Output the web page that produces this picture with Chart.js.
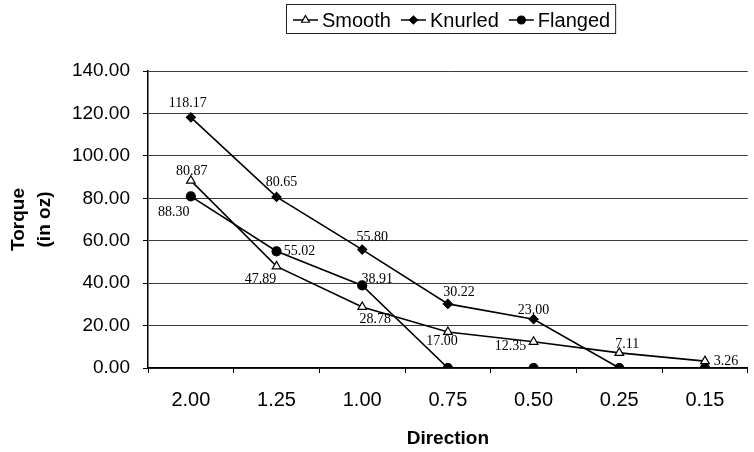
<!DOCTYPE html>
<html>
<head>
<meta charset="utf-8">
<script src="https://cdn.jsdelivr.net/npm/chart.js@4/dist/chart.umd.min.js"></script>
<style>
  html, body { margin: 0; padding: 0; background: #fff; }
  #wrap { width: 754px; height: 452px; position: relative; }
</style>
</head>
<body>
<div id="wrap"><canvas id="c" width="754" height="452"></canvas></div>
<script>
// Direction categories and torque readings (in oz)
const directions = ['2.00', '1.25', '1.00', '0.75', '0.50', '0.25', '0.15'];
const smooth  = [88.30, 47.89, 28.78, 17.00, 12.35, 7.11, 3.26];
const knurled = [118.17, 80.65, 55.80, 30.22, 23.00, 0, 0];
const flanged = [80.87, 55.02, 38.91, 0, 0, 0, 0];
const yTicks = [0, 20, 40, 60, 80, 100, 120, 140];

// Per-point value label offsets (pixels from the marker)
const labelOffsets = {
  Smooth:  [[-17, 32], [-16, 13], [13, 12], [-6, 9], [-23, 5], [8, -9], [21, 0]],
  Knurled: [[-3, -14], [5, -15], [10, -12], [11, -12], [0, -9], [0, 0], [0, 0]],
  Flanged: [[1, -25], [23, 0], [15, -6], [0, 0], [0, 0], [0, 0], [0, 0]]
};

const SANS = '"Liberation Sans", Arial, sans-serif';
const SERIF = '"Liberation Serif", "Times New Roman", serif';

// Value labels beside each non-zero point
const valueLabels = {
  id: 'valueLabels',
  afterDatasetsDraw(chart) {
    const ctx = chart.ctx;
    ctx.save();
    ctx.font = '14px ' + SERIF;
    ctx.fillStyle = '#000';
    ctx.textAlign = 'center';
    ctx.textBaseline = 'middle';
    chart.data.datasets.forEach((ds, i) => {
      const meta = chart.getDatasetMeta(i);
      const offs = labelOffsets[ds.label];
      meta.data.forEach((pt, j) => {
        const v = ds.data[j];
        if (!v) return;
        const [dx, dy] = offs[j];
        ctx.fillText(v.toFixed(2), pt.x + dx, pt.y + dy);
      });
    });
    ctx.restore();
  }
};

function drawMarker(ctx, style, x, y, r, fill) {
  ctx.beginPath();
  if (style === 'triangle') {
    ctx.moveTo(x, y - r);
    ctx.lineTo(x + r * 0.866, y + r * 0.5);
    ctx.lineTo(x - r * 0.866, y + r * 0.5);
    ctx.closePath();
  } else if (style === 'rectRot') {
    ctx.moveTo(x, y - r);
    ctx.lineTo(x + r, y);
    ctx.lineTo(x, y + r);
    ctx.lineTo(x - r, y);
    ctx.closePath();
  } else {
    ctx.arc(x, y, r, 0, Math.PI * 2);
  }
  ctx.fillStyle = fill;
  ctx.fill();
  ctx.stroke();
}

// Boxed legend across the top
const topLegend = {
  id: 'topLegend',
  afterDraw(chart) {
    const ctx = chart.ctx;
    ctx.save();
    ctx.font = '20px ' + SANS;
    ctx.textBaseline = 'middle';
    const y = 20;
    const lineLen = 25, gapText = 4, gapItem = 10;
    const items = chart.data.datasets.map(ds => ({ ds, w: ctx.measureText(ds.label).width }));
    let total = 0;
    items.forEach((it, k) => { total += lineLen + gapText + it.w + (k < items.length - 1 ? gapItem : 0); });
    const boxL = 286, padL = 7, padR = 5;
    let x = boxL + padL;
    ctx.strokeStyle = '#222';
    ctx.lineWidth = 1;
    ctx.strokeRect(boxL + 0.5, 4.5, padL + total + padR, 29);
    items.forEach(it => {
      const ds = it.ds;
      ctx.strokeStyle = '#000';
      ctx.lineWidth = 1.5;
      ctx.beginPath();
      ctx.moveTo(x, y);
      ctx.lineTo(x + lineLen, y);
      ctx.stroke();
      ctx.lineWidth = 1.2;
      drawMarker(ctx, ds.pointStyle, x + lineLen / 2, y, ds.pointRadius - 0.5, ds.pointBackgroundColor);
      x += lineLen + gapText;
      ctx.fillStyle = '#000';
      ctx.textAlign = 'left';
      ctx.fillText(ds.label, x, y + 1);
      x += it.w + gapItem;
    });
    ctx.restore();
  }
};

const whiteBg = {
  id: 'whiteBg',
  beforeDraw(chart) {
    const ctx = chart.ctx;
    ctx.save();
    ctx.fillStyle = '#fff';
    ctx.fillRect(0, 0, chart.width, chart.height);
    ctx.restore();
  }
};

const lineStyle = { borderColor: '#000', borderWidth: 1.6, tension: 0, pointBorderColor: '#000', pointBorderWidth: 1.2, fill: false };

new Chart(document.getElementById('c'), {
  type: 'line',
  data: {
    labels: directions,
    datasets: [
      Object.assign({ label: 'Smooth', data: smooth, pointStyle: 'triangle', pointRadius: 5, pointBackgroundColor: '#fff' }, lineStyle),
      Object.assign({ label: 'Knurled', data: knurled, pointStyle: 'rectRot', pointRadius: 4.5, pointBackgroundColor: '#000' }, lineStyle),
      Object.assign({ label: 'Flanged', data: flanged, pointStyle: 'circle', pointRadius: 4.5, pointBackgroundColor: '#000' }, lineStyle)
    ]
  },
  options: {
    responsive: false,
    animation: false,
    layout: { padding: { top: 71, left: 0, right: 0, bottom: 0 } },
    plugins: { legend: { display: false }, tooltip: { enabled: false } },
    scales: {
      x: {
        type: 'category',
        offset: true,
        afterFit(scale) { scale.height = 84; },
        grid: { display: true, drawOnChartArea: false, offset: true, tickLength: 5, color: '#000', tickColor: '#000' },
        border: { display: true, color: '#000', width: 1.5 },
        ticks: { color: '#000', font: { family: SANS, size: 20 }, padding: 15, maxRotation: 0 },
        title: { display: true, text: 'Direction', color: '#000', font: { family: SANS, size: 19, weight: 'bold', lineHeight: 1.2 }, padding: { top: 0, bottom: 2 } }
      },
      y: {
        min: 0,
        max: 140,
        afterFit(scale) { scale.width = 148; },
        afterBuildTicks(scale) { scale.ticks = yTicks.map(v => ({ value: v })); },
        grid: { color: '#3a3a3a', lineWidth: 1, tickLength: 5, tickColor: '#000' },
        border: { display: true, color: '#000', width: 1.5 },
        ticks: { color: '#000', font: { family: SANS, size: 19 }, padding: 13, callback: v => Number(v).toFixed(2) },
        title: { display: true, text: ['Torque', '(in oz)'], color: '#000', font: { family: SANS, size: 19, weight: 'bold', lineHeight: 1.4 }, padding: { top: 5, bottom: 0 } }
      }
    }
  },
  plugins: [whiteBg, valueLabels, topLegend]
});
</script>
</body>
</html>
